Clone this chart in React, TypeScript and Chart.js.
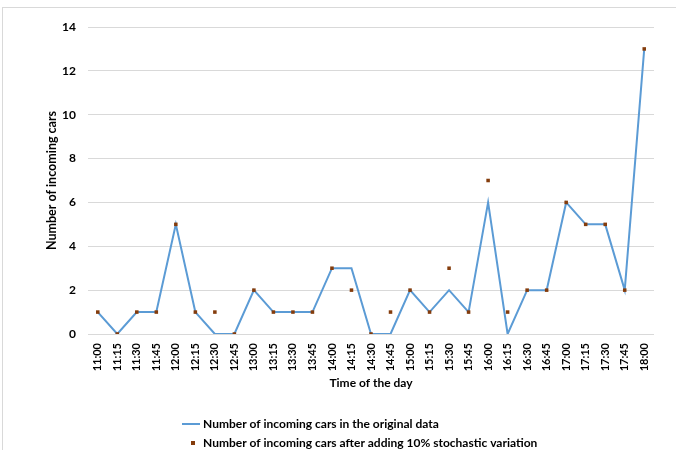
import React, { useEffect, useRef } from "react";
import { Chart, registerables } from "chart.js";

Chart.register(...registerables);

const timeLabels = [
  "11:00", "11:15", "11:30", "11:45", "12:00", "12:15", "12:30", "12:45",
  "13:00", "13:15", "13:30", "13:45", "14:00", "14:15", "14:30", "14:45",
  "15:00", "15:15", "15:30", "15:45", "16:00", "16:15", "16:30", "16:45",
  "17:00", "17:15", "17:30", "17:45", "18:00",
];

const originalCars = [
  1, 0, 1, 1, 5, 1, 0, 0, 2, 1, 1, 1, 3, 3, 0, 0, 2, 1, 2, 1, 6, 0, 2, 2, 6, 5, 5, 2, 13,
];

const variedCars = [
  1, 0, 1, 1, 5, 1, 1, 0, 2, 1, 1, 1, 3, 2, 0, 1, 2, 1, 3, 1, 7, 1, 2, 2, 6, 5, 5, 2, 13,
];

const seriesNames = [
  "Number of incoming cars in the original data",
  "Number of incoming cars after adding 10% stochastic variation",
];

const FONT = "Lato";
const LINE_COLOR = "#5b9bd5";
const MARK_COLOR = "#843c0c";

const framePlugin = {
  id: "frame",
  beforeDraw(chart: any) {
    const ctx = chart.ctx;
    ctx.save();
    ctx.fillStyle = "#ffffff";
    ctx.fillRect(0, 0, chart.width, chart.height);
    ctx.strokeStyle = "#d9d9d9";
    ctx.lineWidth = 1;
    ctx.strokeRect(2.5, 7.5, chart.width + 20, chart.height + 20);
    ctx.restore();
  },
};

const legendPlugin = {
  id: "customLegend",
  afterDraw(chart: any) {
    const ctx = chart.ctx;
    ctx.save();
    ctx.font = `bold 12px ${FONT}`;
    ctx.textBaseline = "middle";
    ctx.textAlign = "left";
    // line item
    const y1 = 424;
    ctx.strokeStyle = LINE_COLOR;
    ctx.lineWidth = 2;
    ctx.beginPath();
    ctx.moveTo(182, y1);
    ctx.lineTo(200, y1);
    ctx.stroke();
    ctx.fillStyle = "#000000";
    ctx.fillText(chart.data.datasets[0].label, 203, y1);
    // marker item
    const y2 = 443;
    ctx.fillStyle = MARK_COLOR;
    ctx.fillRect(191, y2 - 2, 4, 4);
    ctx.fillStyle = "#000000";
    ctx.fillText(chart.data.datasets[1].label, 203, y2);
    ctx.restore();
  },
};

export default function App() {
  const canvasRef = useRef<HTMLCanvasElement | null>(null);

  useEffect(() => {
    document.body.style.margin = "0";
    const canvas = canvasRef.current;
    if (!canvas) return;
    const chart = new Chart(canvas, {
      type: "line",
      data: {
        labels: timeLabels,
        datasets: [
          {
            label: seriesNames[0],
            data: originalCars,
            borderColor: LINE_COLOR,
            backgroundColor: LINE_COLOR,
            borderWidth: 2,
            pointRadius: 0,
            tension: 0,
            order: 2,
          },
          {
            label: seriesNames[1],
            data: variedCars,
            showLine: false,
            pointStyle: "rect",
            pointRadius: 2.5,
            pointBorderWidth: 0,
            backgroundColor: MARK_COLOR,
            borderColor: MARK_COLOR,
            order: 1,
          },
        ],
      },
      options: {
        responsive: false,
        animation: false,
        layout: { padding: { left: 40, top: 27, right: 22, bottom: 56 } },
        plugins: {
          legend: { display: false },
          tooltip: { enabled: false },
        },
        scales: {
          x: {
            offset: true,
            grid: { display: false, drawTicks: false },
            border: { display: false },
            ticks: {
              autoSkip: false,
              minRotation: 90,
              maxRotation: 90,
              padding: 9,
              color: "#000000",
              font: { family: FONT, size: 11, weight: "bold" },
            },
            title: {
              display: true,
              text: "Time of the day",
              color: "#000000",
              font: { family: FONT, size: 12, weight: "bold" },
            },
            afterFit(scale: any) {
              scale.height = 60;
            },
          },
          y: {
            min: 0,
            max: 14,
            grid: { color: "#d9d9d9", lineWidth: 1, drawTicks: false },
            border: { display: false },
            ticks: {
              stepSize: 2,
              padding: 12,
              color: "#000000",
              font: { family: FONT, size: 12, weight: "bold" },
            },
            title: {
              display: true,
              text: "Number of incoming cars",
              color: "#000000",
              font: { family: FONT, size: 12.5, weight: "bold" },
            },
            afterFit(scale: any) {
              scale.width = 48;
            },
          },
        },
      },
      plugins: [framePlugin, legendPlugin],
    });
    return () => chart.destroy();
  }, []);

  return (
    <div style={{ width: 676, height: 450 }}>
      <canvas ref={canvasRef} width={676} height={450} />
    </div>
  );
}
